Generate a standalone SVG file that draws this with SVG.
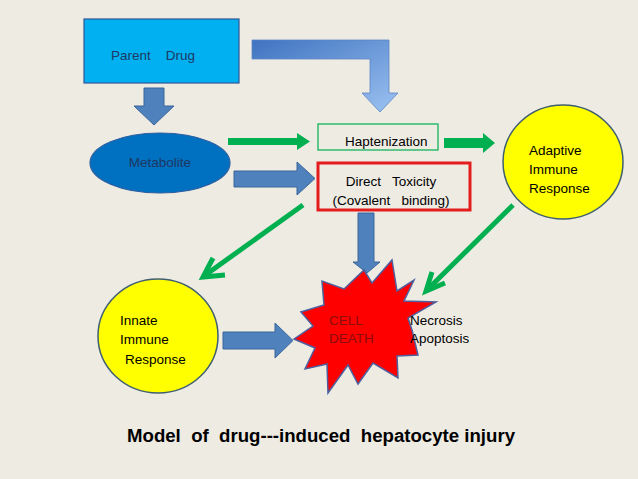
<svg xmlns="http://www.w3.org/2000/svg" width="638" height="479" viewBox="0 0 638 479">
<defs>
<style>
text{font-family:"Liberation Sans",Arial,sans-serif;font-size:13.5px;fill:#000}
.navy{fill:#1f3864}
.dred{fill:#8a0c0c}
.blk{fill:#4f81bd;stroke:#3b679c;stroke-width:1}
.grn{stroke:#00b050;stroke-width:5;fill:none;stroke-linecap:butt}
.gfill{fill:#00b050}
.yel{fill:#ffff00;stroke:#3f5f6f;stroke-width:1.5}
</style>
<linearGradient id="bend" x1="0" y1="0" x2="1" y2="1">
<stop offset="0" stop-color="#3f73c0"/>
<stop offset="1" stop-color="#9cc2f2"/>
</linearGradient>
</defs>
<rect width="638" height="479" fill="#eeebe3"/>

<g id="connectors">
<polygon class="blk" points="144,88 164,88 164,106 174,106 154,125 134,106 144,106"/>
<polygon fill="url(#bend)" stroke="#5b86c4" stroke-width="0.8" points="252,40 389,40 389,93 398,93 380,112 362,93 370,93 370,59 252,59"/>
<polygon class="gfill" points="228,138 297,138 297,133 310,141.5 297,150 297,145 228,145"/>
<polygon class="gfill" points="444,138 483,138 483,133 495,143 483,153 483,148 444,148"/>
<polygon class="blk" points="234,171 297,171 297,162 315,178.5 297,195 297,187 234,187"/>
<polygon class="blk" points="358,213 374,213 374,262 380,262 367,273 353,262 358,262"/>
<polygon class="blk" points="223,332 275,332 275,323 293,340.5 275,358 275,349 223,349"/>
<line class="grn" x1="303" y1="205" x2="204" y2="276"/>
<polyline class="grn" points="213,258 203,277 225,275" stroke-linejoin="miter"/>
<line class="grn" x1="513" y1="205" x2="427" y2="290"/>
<polyline class="grn" points="432,272 426,291 445,283" stroke-linejoin="miter"/>
</g>

<g id="parent-drug">
<rect x="84" y="19" width="155" height="64" fill="#00b0f0" stroke="#2f5597" stroke-width="1.2"/>
<text x="111" y="60" class="navy" xml:space="preserve">Parent    Drug</text>
</g>

<g id="metabolite">
<ellipse cx="160" cy="163" rx="70" ry="30" fill="#0070c0" stroke="#2e5fa0" stroke-width="1.2"/>
<text x="160" y="167" text-anchor="middle" class="navy">Metabolite</text>
</g>

<g id="haptenization">
<rect x="318" y="124" width="120" height="26" fill="none" stroke="#00b050" stroke-width="1.2"/>
<text x="345" y="146">Haptenization</text>
</g>

<g id="direct-toxicity">
<rect x="318" y="163" width="152" height="47" fill="none" stroke="#e51c1c" stroke-width="3"/>
<text x="391" y="186" text-anchor="middle" xml:space="preserve">Direct   Toxicity</text>
<text x="391" y="205" text-anchor="middle" xml:space="preserve">(Covalent   binding)</text>
</g>

<g id="adaptive">
<ellipse class="yel" cx="563" cy="162" rx="60" ry="57"/>
<text x="529" y="155">Adaptive</text>
<text x="529" y="174">Immune</text>
<text x="529" y="193">Response</text>
</g>

<g id="innate">
<ellipse class="yel" cx="158" cy="336" rx="60" ry="57"/>
<text x="120" y="325">Innate</text>
<text x="120" y="344">Immune</text>
<text x="125" y="364">Response</text>
</g>

<g id="cell-death">
<polygon fill="#ff0000" stroke="#4e5f9e" stroke-width="1.5" stroke-linejoin="miter" points="392,260 397,291 414,280 404,301 436,302 408,318 412,330 418,355 397,356 398,378 373,363 358,384 348,365 328,393 327,364 305,369 315,348 294,339 313,326 301,312 324,305 322,281 344,289 364,270 372,283"/>
<text x="329" y="325" class="dred">CELL</text>
<text x="329" y="343" class="dred">DEATH</text>
<text x="410" y="325">Necrosis</text>
<text x="410" y="343">Apoptosis</text>
</g>

<g id="title">
<text x="127" y="442" style="font-size:18px;font-weight:bold" textLength="388" lengthAdjust="spacingAndGlyphs" xml:space="preserve">Model  of  drug---induced  hepatocyte injury</text>
</g>
</svg>
